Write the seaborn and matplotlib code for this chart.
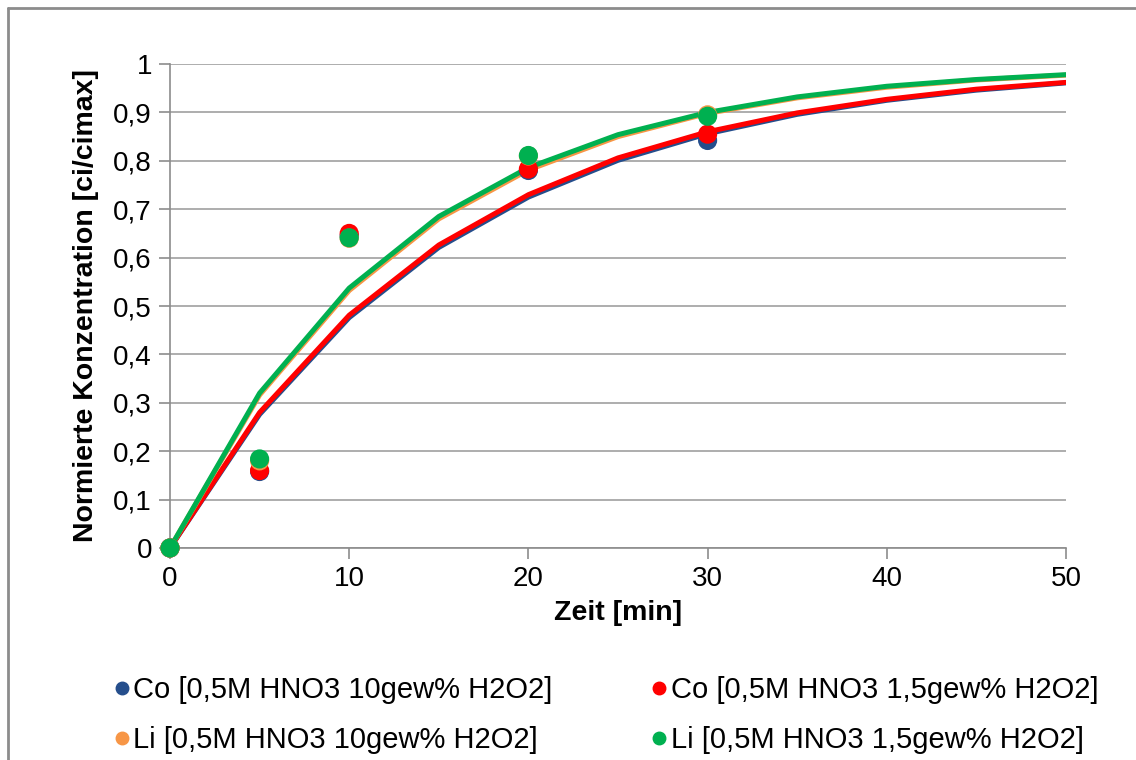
import numpy as np
import pandas as pd
import matplotlib
matplotlib.use("Agg")
import matplotlib.pyplot as plt
import seaborn as sns
from matplotlib.lines import Line2D

# measured points
t_meas = [0, 5, 10, 20, 30]
co_10 = [0.0, 0.158, 0.645, 0.780, 0.842]
co_15 = [0.0, 0.160, 0.650, 0.783, 0.855]
li_10 = [0.0, 0.180, 0.640, 0.810, 0.895]
li_15 = [0.0, 0.184, 0.641, 0.811, 0.892]

# fitted curves
t_fit = [0, 5, 10, 15, 20, 25, 30, 35, 40, 45, 50]
co_10_fit = [0.0, 0.276, 0.476, 0.621, 0.725, 0.801, 0.856, 0.896, 0.925, 0.946, 0.961]
co_15_fit = [0.0, 0.280, 0.481, 0.626, 0.730, 0.806, 0.860, 0.899, 0.927, 0.948, 0.962]
li_10_fit = [0.0, 0.316, 0.532, 0.680, 0.781, 0.850, 0.898, 0.930, 0.952, 0.967, 0.977]
li_15_fit = [0.0, 0.320, 0.537, 0.685, 0.786, 0.854, 0.900, 0.932, 0.954, 0.968, 0.978]

labels = ["Co [0,5M HNO3 10gew% H2O2]", "Co [0,5M HNO3 1,5gew% H2O2]",
          "Li [0,5M HNO3 10gew% H2O2]", "Li [0,5M HNO3 1,5gew% H2O2]"]
colors = ["#254E8C", "#FF0000", "#F79646", "#00B050"]

sns.set_style("white")
plt.rcParams['font.family'] = ['Liberation Sans', 'DejaVu Sans']
plt.rcParams['text.color'] = 'black'
plt.rcParams['axes.labelcolor'] = 'black'
plt.rcParams['xtick.labelcolor'] = 'black'
plt.rcParams['ytick.labelcolor'] = 'black'

fig = plt.figure(figsize=(11.36, 7.6), dpi=100)
ax = fig.add_axes([170/1136, 1-548/760, (1066-170)/1136, (548-64)/760])

fits = [co_10_fit, co_15_fit, li_10_fit, li_15_fit]
meas = [co_10, co_15, li_10, li_15]
for fit, col in zip(fits, colors):
    sns.lineplot(x=t_fit, y=fit, color=col, linewidth=3.6, ax=ax, zorder=2)
for m, col in zip(meas, colors):
    sns.scatterplot(x=t_meas, y=m, color=col, s=190, edgecolor='none', ax=ax,
                    zorder=3, clip_on=False)

ax.set_xlim(0, 50)
ax.set_ylim(0, 1)
ax.set_xticks([0, 10, 20, 30, 40, 50])
ax.set_yticks(np.arange(0, 1.01, 0.1))
ax.set_yticklabels(["0", "0,1", "0,2", "0,3", "0,4", "0,5", "0,6", "0,7", "0,8", "0,9", "1"])
ax.grid(axis='y', color='#A0A0A0', linewidth=1.2)
ax.set_axisbelow(True)
for s in ['top', 'right']:
    ax.spines[s].set_visible(False)
for s in ['left', 'bottom']:
    ax.spines[s].set_color('#8C8C8C')
    ax.spines[s].set_linewidth(1.2)
ax.tick_params(axis='both', which='both', direction='out', length=8, width=1.2,
               color='#8C8C8C', labelcolor='black', labelsize=20, pad=5, left=True, bottom=True)
ax.set_xlabel("Zeit [min]", fontsize=20.5, fontweight='bold', labelpad=6, color='black')
ax.set_ylabel("Normierte Konzentration [ci/cimax]", fontsize=20.5, fontweight='bold',
              labelpad=10, color='black')

handles = [Line2D([], [], marker='o', linestyle='none', color=c, markersize=9) for c in colors]
order = [0, 2, 1, 3]
fig.legend([handles[i] for i in order], [labels[i] for i in order], ncol=2,
           loc='upper left', bbox_to_anchor=(88/1136, 1-650/760), frameon=False,
           fontsize=21, handlelength=0.5, handletextpad=0.15, columnspacing=3.4,
           labelspacing=0.75, labelcolor='black')

# chart frame
fig.add_artist(Line2D([8/1136, 1], [1-8/760, 1-8/760], color='#8C8C8C', linewidth=2, transform=fig.transFigure))
fig.add_artist(Line2D([8/1136, 8/1136], [0, 1-8/760], color='#8C8C8C', linewidth=2, transform=fig.transFigure))

fig.savefig("out.png", dpi=100)
